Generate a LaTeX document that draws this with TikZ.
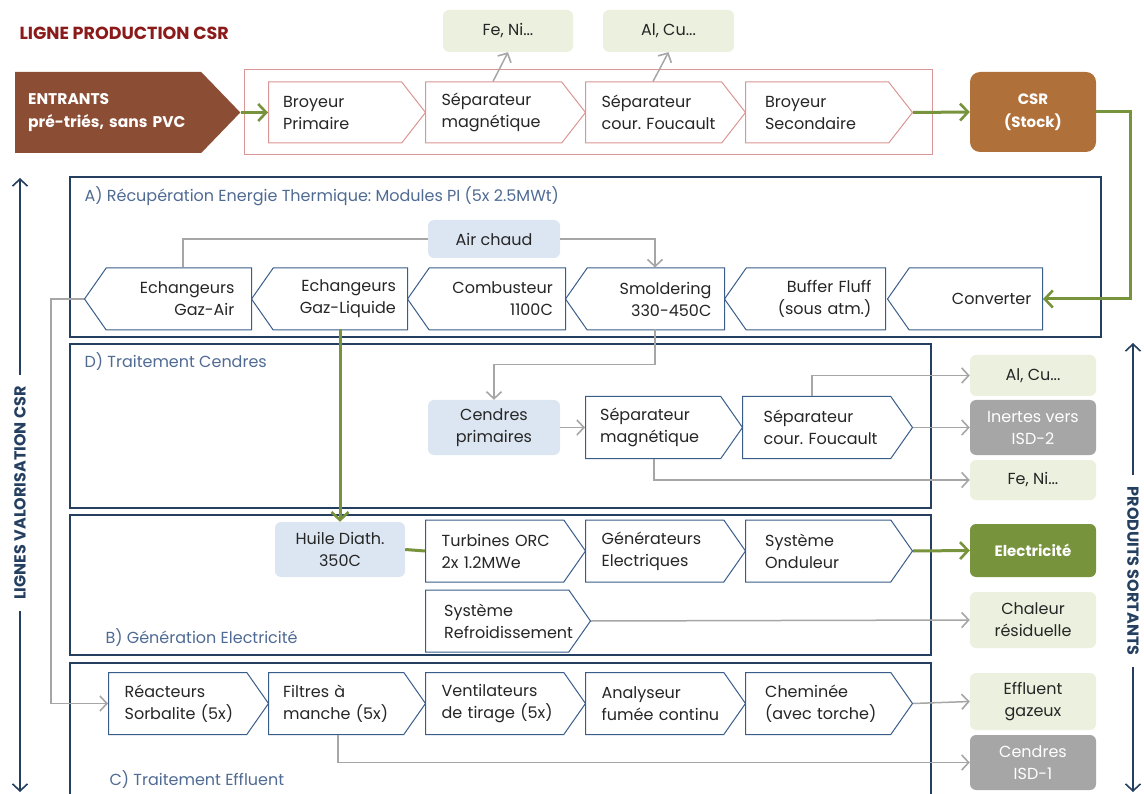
\documentclass[tikz,border=0pt]{standalone}
\usepackage{fontspec}
\setmainfont{Poppins}
\usetikzlibrary{shapes.symbols,arrows.meta}
\definecolor{csr_pink}{RGB}{217,150,148}
\definecolor{csr_blue}{RGB}{56,93,138}
\definecolor{csr_navy}{RGB}{36,63,96}
\definecolor{csr_title}{RGB}{79,106,147}
\definecolor{csr_green}{RGB}{119,147,60}
\definecolor{csr_grey}{RGB}{166,166,166}
\definecolor{csr_lgreen}{RGB}{235,241,222}
\definecolor{csr_lblue}{RGB}{220,230,242}
\definecolor{csr_brown}{RGB}{139,78,53}
\definecolor{csr_orange}{RGB}{176,112,58}
\definecolor{csr_red}{RGB}{139,26,26}
\definecolor{csr_text}{RGB}{38,38,38}
\hyphenpenalty=10000
\exhyphenpenalty=10000
\newcommand{\stepfont}{\frenchspacing\fontsize{16}{22}\selectfont}
\tikzstyle{pstep}=[signal,signal to=east,signal pointer angle=104,draw=csr_pink,
  line width=1pt,fill=white,minimum height=61pt,text width=104pt,align=left,
  inner xsep=13pt,inner ysep=0pt,text=csr_text,font=\stepfont]
\tikzstyle{bstep}=[signal,signal to=east,signal pointer angle=110,draw=csr_blue,
  line width=1pt,fill=white,minimum height=62pt,text width=106pt,align=left,
  inner xsep=13pt,inner ysep=0pt,text=csr_text,font=\stepfont]
\tikzstyle{lstep}=[signal,signal to=west,signal pointer angle=110,draw=csr_blue,
  line width=1pt,fill=white,minimum height=62pt,text width=111pt,align=right,
  inner xsep=9pt,inner ysep=0pt,text=csr_text,font=\stepfont]
\tikzstyle{outg}=[rectangle,rounded corners=6pt,fill=csr_lgreen,text=csr_text,
  minimum width=126pt,align=center,font=\stepfont]
\tikzstyle{outd}=[rectangle,rounded corners=6pt,fill=csr_grey,text=white,
  minimum width=126pt,align=center,font=\stepfont]
\tikzstyle{infob}=[rectangle,rounded corners=6pt,fill=csr_lblue,text=csr_text,
  minimum width=132pt,align=center,font=\stepfont]
\tikzstyle{sect}=[rectangle,draw=csr_navy,line width=1.2pt,inner sep=0pt]
\tikzstyle{secttitle}=[anchor=west,text=csr_title,font=\stepfont]
\tikzstyle{gline}=[draw=csr_grey,line width=1.5pt]
\tikzstyle{garrow}=[gline,-{Straight Barb[length=7pt,width=15pt,line width=1.6pt]}]
\tikzstyle{flow}=[draw=csr_green,line width=3pt,-{Straight Barb[length=8pt,width=17pt,line width=2.6pt]}]
\tikzstyle{side}=[draw=csr_navy,line width=1.5pt,-{Straight Barb[length=7pt,width=15pt,line width=1.6pt]}]
\tikzstyle{sidelab}=[text=csr_navy,inner sep=11pt,font=\bfseries\fontsize{16}{18}\selectfont]

\begin{document}
\begin{tikzpicture}[x=1pt,y=-1pt]
        \useasboundingbox (0,0) rectangle (1144,794);
        \node [anchor=west,text=csr_red,font=\bfseries\fontsize{17.5}{19}\selectfont] (ttl) at (16,33) {LIGNE PRODUCTION CSR};
        \node [signal,signal to=east,signal pointer angle=92,fill=csr_brown,text=white,minimum width=210pt,minimum height=81pt,
          text width=160pt,align=left,inner xsep=13pt,inner ysep=0pt,font=\bfseries\fontsize{15.5}{23}\selectfont,anchor=west] (entr) at (15,112.5) {ENTRANTS\\pré-triés,~sans~PVC};
        \node [rectangle,draw=csr_pink,line width=1pt,minimum width=688pt,minimum height=85pt] (fprod) at (588,112.5) {};
        \node [style=pstep,minimum width=157pt,anchor=west] (bp) at (268,112.5) {Broyeur\\Primaire};
        \node [style=pstep,minimum width=160pt,anchor=west] (sm1) at (425,112.5) {Séparateur\\magnétique};
        \node [style=pstep,minimum width=160pt,anchor=west] (sf1) at (585,112.5) {Séparateur\\cour.~Foucault};
        \node [style=pstep,minimum width=167pt,anchor=west] (bs) at (745,112.5) {Broyeur\\Secondaire};
        \node [style=outg,minimum width=130pt,minimum height=42pt] (feni) at (508,31) {Fe, Ni...};
        \node [style=outg,minimum width=131pt,minimum height=42pt] (alcu) at (668.5,31) {Al, Cu...};
        \node [rectangle,rounded corners=10pt,fill=csr_orange,text=white,minimum width=126pt,minimum height=80pt,align=center,
          font=\bfseries\fontsize{15}{23}\selectfont] (csr) at (1033,112) {CSR\\(Stock)};
        \coordinate (rt) at (1130,200);

        \node [style=sect,minimum width=1031pt,minimum height=160pt] (secA) at (585.5,257) {};
        \node [style=secttitle] (tA) at (81,196) {A) Récupération Energie Thermique: Modules PI (5x 2.5MWt)};
        \node [style=lstep,minimum width=155pt,anchor=east] (conv) at (1043,299) {Converter};
        \node [style=lstep,minimum width=161pt,anchor=east] (buf) at (886,299) {Buffer~Fluff\\(sous~atm.)};
        \node [style=lstep,minimum width=159pt,anchor=east] (smol) at (725,299) {Smoldering\\330-450C};
        \node [style=lstep,minimum width=158pt,anchor=east] (comb) at (566,299) {Combusteur\\1100C};
        \node [style=lstep,minimum width=156pt,anchor=east] (egl) at (408,299) {Echangeurs\\Gaz-Liquide};
        \node [style=lstep,minimum width=167pt,anchor=east] (ega) at (252,299) {Echangeurs\\Gaz-Air};
        \node [style=infob,minimum height=38pt] (airc) at (494,239) {Air chaud};

        \node [style=sect,minimum width=861pt,minimum height=164pt] (secD) at (500.5,426) {};
        \node [style=secttitle] (tD) at (81,362) {D) Traitement Cendres};
        \node [style=infob,minimum height=55pt] (cp) at (494,427.5) {Cendres\\primaires};
        \node [style=bstep,minimum width=157pt,anchor=west] (dsm) at (585,427.5) {Séparateur\\magnétique};
        \node [style=bstep,minimum width=170pt,anchor=west] (dsf) at (742,427.5) {Séparateur\\cour.~Foucault};
        \node [style=outg,minimum height=41pt] (alcu2) at (1033,375.5) {Al, Cu...};
        \node [style=outd,minimum height=55pt] (inert) at (1033,427.5) {Inertes vers\\ISD-2};
        \node [style=outg,minimum height=40pt] (feni2) at (1033,480) {Fe, Ni...};

        \node [style=sect,minimum width=861pt,minimum height=140pt] (secB) at (500.5,585) {};
        \node [style=secttitle] (tB) at (102,638) {B) Génération Electricité};
        \node [style=infob,minimum width=130pt,minimum height=55pt] (huile) at (340,549.5) {Huile Diath.\\350C};
        \node [style=bstep,minimum width=160pt,anchor=west] (turb) at (425,551) {Turbines~ORC\\2x~1.2MWe};
        \node [style=bstep,minimum width=160pt,anchor=west] (gen) at (585,551) {Générateurs\\Electriques};
        \node [style=bstep,minimum width=167pt,anchor=west] (ond) at (745,551) {Système\\Onduleur};
        \node [style=bstep,minimum width=165pt,anchor=west] (refr) at (425,621) {Système\\Refroidissement};
        \node [rectangle,rounded corners=6pt,fill=csr_green,text=white,minimum width=126pt,minimum height=53pt,
          font=\bfseries\fontsize{15}{18}\selectfont] (elec) at (1033,550.5) {Electricité};
        \node [style=outg,minimum height=56pt] (chal) at (1033,620) {Chaleur\\résiduelle};

        \node [style=sect,minimum width=861pt,minimum height=140pt] (secC) at (500.5,733) {};
        \node [style=secttitle] (tC) at (106,780) {C) Traitement Effluent};
        \node [style=bstep,minimum width=160pt,anchor=west] (reac) at (108,703.5) {Réacteurs\\Sorbalite~(5x)};
        \node [style=bstep,minimum width=157pt,anchor=west] (filt) at (268,703.5) {Filtres~à\\manche~(5x)};
        \node [style=bstep,minimum width=160pt,anchor=west] (vent) at (425,703.5) {Ventilateurs\\de~tirage~(5x)};
        \node [style=bstep,minimum width=160pt,anchor=west] (anal) at (585,703.5) {Analyseur\\fumée~continu};
        \node [style=bstep,minimum width=167pt,anchor=west] (chem) at (745,703.5) {Cheminée\\(avec~torche)};
        \node [style=outg,minimum height=57pt] (effl) at (1033,701.5) {Effluent\\gazeux};
        \node [style=outd,minimum height=55pt] (cisd) at (1033,762.5) {Cendres\\ISD-1};

        \node [style=sidelab,rotate=90] (lval) at (20,493) {LIGNES VALORISATION CSR};
        \coordinate (ltop) at (20,178);
        \coordinate (lbot) at (20,792);
        \node [style=sidelab,rotate=-90] (rprod) at (1133,571) {PRODUITS SORTANTS};
        \coordinate (rtop) at (1133,343);
        \coordinate (rbot) at (1133,792);

        \draw [style=flow] (entr.east) to (bp.west);
        \draw [style=flow] (bs.east) to (csr.west);
        \draw [style=flow] (csr.east) -| (rt) |- (conv.east);
        \draw [style=garrow] ([xshift=68pt]sm1.north west) to (feni.south);
        \draw [style=garrow] ([xshift=68pt]sf1.north west) to (alcu.south);
        \draw [style=gline] (airc.west) -| ([xshift=-69pt]ega.north east);
        \draw [style=garrow] (airc.east) -| ([xshift=-70pt]smol.north east);
        \draw [style=garrow] ([xshift=-70pt]smol.south east) -- ++(0,35) -| (cp.north);
        \draw [style=garrow] (ega.west) -- ++(-33,0) |- (reac.west);
        \draw [style=flow] ([xshift=-68pt]egl.south east) to (huile.north);
        \draw [style=garrow] (cp.east) to (dsm.west);
        \draw [style=garrow] ([xshift=70pt]dsf.north west) |- (alcu2.west);
        \draw [style=garrow] (dsf.east) to (inert.west);
        \draw [style=garrow] ([xshift=69pt]dsm.south west) |- (feni2.west);
        \draw [draw=csr_green,line width=3pt] (huile.east) to (turb.west);
        \draw [style=flow] (ond.east) to (elec.west);
        \draw [style=garrow] (refr.east) to (chal.west);
        \draw [style=garrow] (chem.east) to (effl.west);
        \draw [style=garrow] ([xshift=70pt]filt.south west) |- (cisd.west);
        \draw [style=side] (lval.east) to (ltop);
        \draw [style=side] (lval.west) to (lbot);
        \draw [style=side] (rprod.west) to (rtop);
        \draw [style=side] (rprod.east) to (rbot);
    \end{tikzpicture}
\end{document}
